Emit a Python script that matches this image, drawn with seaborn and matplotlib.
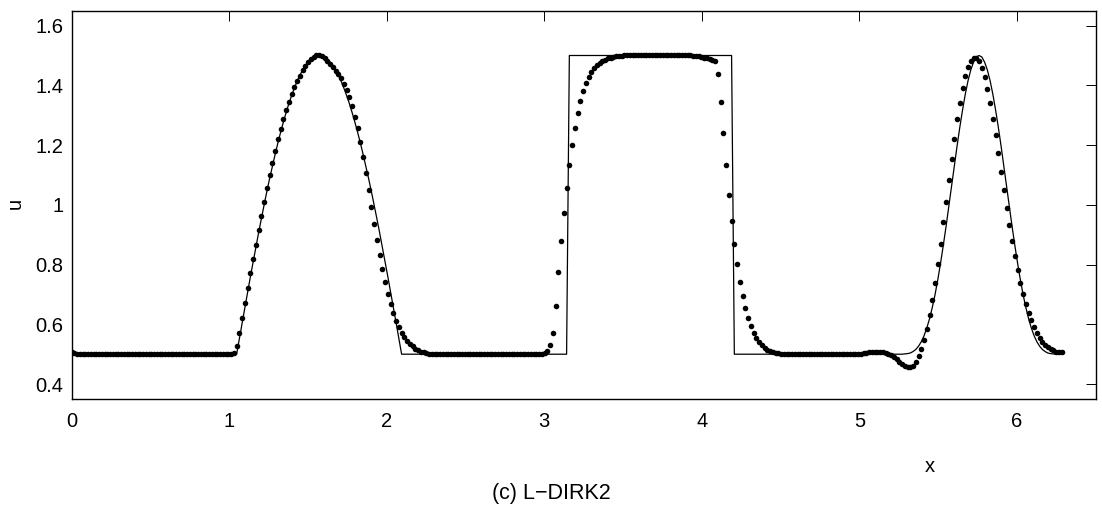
import numpy as np
import matplotlib
matplotlib.use("Agg")
import matplotlib.pyplot as plt
import seaborn as sns

# ---------------- data ----------------
X_MAX = 6.2832  # right end of the grid (2*pi)

# numerical solution (dots), one value per grid node, 361 nodes
u_numeric = (
    [0.506, 0.503, 0.501] + [0.500] * 55 + [0.501, 0.503]
    + [0.527, 0.572, 0.621, 0.672, 0.722, 0.772, 0.819, 0.867, 0.915, 0.962,
       1.010, 1.055, 1.099, 1.141, 1.181, 1.219, 1.255, 1.287, 1.317, 1.345,
       1.370, 1.393, 1.414, 1.433, 1.450, 1.465, 1.478, 1.488, 1.496, 1.500,
       1.500, 1.497, 1.491, 1.482, 1.471, 1.460, 1.449, 1.437, 1.423, 1.405,
       1.385, 1.362, 1.331, 1.295, 1.256, 1.211, 1.161, 1.105, 1.049, 0.993,
       0.937, 0.883, 0.833, 0.785, 0.741, 0.702, 0.667, 0.638, 0.612, 0.590,
       0.571, 0.556, 0.545, 0.534, 0.526, 0.519, 0.514, 0.509, 0.506, 0.504,
       0.502, 0.501]
    + [0.500] * 39
    + [0.502, 0.505, 0.512, 0.532, 0.570, 0.662, 0.774, 0.878, 0.973, 1.058,
       1.134, 1.200, 1.257, 1.306, 1.346, 1.381, 1.407, 1.428, 1.446, 1.458,
       1.468, 1.476, 1.482, 1.486, 1.490, 1.493, 1.495, 1.497, 1.498, 1.499]
    + [1.500] * 24
    + [1.500, 1.499, 1.498, 1.497, 1.495, 1.493, 1.491, 1.488, 1.486, 1.482,
       1.438, 1.345, 1.239, 1.132, 1.032, 0.946, 0.869, 0.801, 0.742, 0.695,
       0.655, 0.622, 0.594, 0.572, 0.554, 0.541, 0.530, 0.522, 0.515, 0.511,
       0.507, 0.505, 0.503, 0.502, 0.501]
    + [0.500] * 26
    + [0.501, 0.502, 0.503, 0.505, 0.506, 0.507, 0.508, 0.508, 0.507, 0.506,
       0.504, 0.501, 0.496, 0.490, 0.483, 0.475, 0.468, 0.462, 0.458, 0.457,
       0.462, 0.475, 0.495, 0.518, 0.546, 0.585, 0.630, 0.683, 0.739, 0.801,
       0.870, 0.942, 1.011, 1.083, 1.153, 1.222, 1.286, 1.342, 1.390, 1.431,
       1.463, 1.483, 1.492, 1.493, 1.482, 1.457, 1.427, 1.388, 1.342, 1.289,
       1.234, 1.172, 1.111, 1.051, 0.991, 0.933, 0.879, 0.828, 0.781, 0.739,
       0.701, 0.667, 0.639, 0.613, 0.591, 0.572, 0.555, 0.542, 0.532, 0.524,
       0.517, 0.513, 0.509, 0.507, 0.506]
)

# exact solution (solid line), same grid
u_exact = (
    [0.500] * 60
    + [0.500, 0.552, 0.605, 0.656, 0.708, 0.759, 0.809, 0.858, 0.907, 0.954,
       1.000, 1.045, 1.088, 1.129, 1.169, 1.207, 1.243, 1.277, 1.309, 1.339,
       1.366, 1.391, 1.414, 1.434, 1.451, 1.466, 1.478, 1.488, 1.494, 1.499,
       1.500, 1.499, 1.494, 1.488, 1.478, 1.466, 1.451, 1.434, 1.414, 1.391,
       1.366, 1.339, 1.309, 1.277, 1.243, 1.207, 1.169, 1.129, 1.088, 1.045,
       1.000, 0.954, 0.907, 0.858, 0.809, 0.759, 0.708, 0.656, 0.605, 0.552,
       0.500]
    + [0.500] * 60
    + [1.500] * 60
    + [0.500] * 62
    + [0.501, 0.502, 0.504, 0.509, 0.516, 0.527, 0.542, 0.562, 0.588, 0.619,
       0.657, 0.700, 0.750, 0.805, 0.865, 0.928, 0.995, 1.062, 1.130, 1.197,
       1.260, 1.318, 1.371, 1.416, 1.452, 1.478, 1.495, 1.500, 1.495, 1.478,
       1.452, 1.416, 1.371, 1.318, 1.260, 1.197, 1.130, 1.062, 0.995, 0.928,
       0.865, 0.805, 0.750, 0.700, 0.657, 0.619, 0.588, 0.562, 0.542, 0.527,
       0.516, 0.509, 0.504, 0.502, 0.501]
    + [0.500] * 3
)

x_ticks = [0, 1, 2, 3, 4, 5, 6]
x_tick_labels = ["0", "1", "2", "3", "4", "5", "6"]
y_ticks = [0.4, 0.6, 0.8, 1.0, 1.2, 1.4, 1.6]
y_tick_labels = ["0.4", "0.6", "0.8", "1", "1.2", "1.4", "1.6"]

x_label = "x"
y_label = "u"
caption = "(c) L\u2212DIRK2"

# ---------------- plotting ----------------
sns.set_theme(style="white")
plt.rcParams["font.family"] = ["Liberation Sans", "DejaVu Sans"]

x_grid = np.linspace(0.0, X_MAX, len(u_numeric))

fig = plt.figure(figsize=(11.02, 5.09), dpi=100)
ax = fig.add_axes([0.065, 0.2161, 0.9293, 0.7629])

sns.lineplot(x=x_grid, y=u_exact, color="black", linewidth=0.9,
             estimator=None, ax=ax)
sns.scatterplot(x=x_grid, y=u_numeric, color="black", s=16,
                linewidth=0, ax=ax, zorder=3)

ax.set_xlim(0, 6.5)
ax.set_ylim(0.35, 1.65)
ax.set_xticks(x_ticks)
ax.set_xticklabels(x_tick_labels)
ax.set_yticks(y_ticks)
ax.set_yticklabels(y_tick_labels)
ax.set_xlabel("")
ax.set_ylabel("")

for sp in ax.spines.values():
    sp.set_visible(True)
    sp.set_color("black")
    sp.set_linewidth(1.0)

ax.tick_params(direction="in", top=True, right=True, length=7, width=0.7,
               color="black", labelsize=14.5, labelcolor="black")
ax.tick_params(axis="x", pad=9)
ax.tick_params(axis="y", pad=6)

fig.text(15 / 1102, 1 - 203 / 509, y_label, rotation=90, ha="center",
         va="center", fontsize=14.5, color="black")
fig.text(930 / 1102, 1 - 467 / 509, x_label, ha="center", va="center",
         fontsize=14.5, color="black")
fig.text(0.5, 1 - 493 / 509, caption, ha="center", va="center",
         fontsize=15.5, color="black")

fig.savefig("out.png", dpi=100)
